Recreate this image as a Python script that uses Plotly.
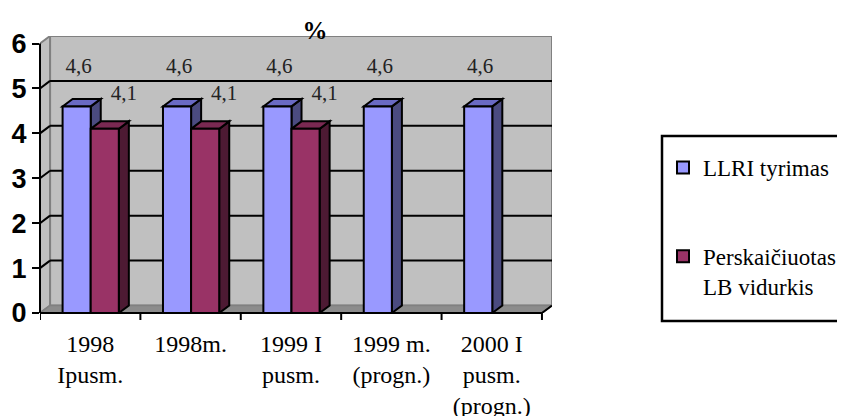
import plotly.graph_objects as go

# ---- data ----
categories = ["1998<br>Ipusm.", "1998m.", "1999 I<br>pusm.", "1999 m.<br>(progn.)", "2000 I<br>pusm.<br>(progn.)"]
series_names = ["LLRI tyrimas", "Perskaičiuotas<br>LB vidurkis"]
llri_values = [4.6, 4.6, 4.6, 4.6, 4.6]
lb_values = [4.1, 4.1, 4.1, None, None]
y_ticks = [0, 1, 2, 3, 4, 5, 6]
title_text = "%"

# ---- style ----
OFF = 8                        # page body margin of the browser
W, H = 845 - OFF, 416 - OFF
ML, MR, MT, MB = 40 - OFF, 293, 36 - OFF, 103
n = len(categories)
DX, DY = 0.10, 0.167          # 3D depth offset in axis units
BAR_W = 0.28
OFFS = [0.365, 0.645]
FRONT = ["#9999FF", "#993366"]
TOP = ["#6A6AC4", "#7A2952"]
SIDE = ["#4B4B80", "#4D1A33"]
LBL_DX = [0.02, 0.19]
LBL_DY = [0.87, 0.77]
SERIF = "Liberation Serif, Times New Roman, serif"
SANS = "Liberation Sans, Arial, sans-serif"

xmax = n + DX
ymax = y_ticks[-1] + DY
plot_h = H - MT - MB
pw = W - ML - MR


def px_x(p):  # reference pixel -> paper x
    return (p - OFF - ML) / pw


def px_y(p):  # reference pixel -> paper y
    return (H - MB - (p - OFF)) / plot_h


fig = go.Figure()
shapes = []

# walls and floor
shapes.append(dict(type="path", xref="x", yref="y", layer="below",
                   path=f"M{DX},{DY} L{n+DX},{DY} L{n+DX},{y_ticks[-1]+DY} L{DX},{y_ticks[-1]+DY} Z",
                   fillcolor="#C0C0C0", line=dict(color="#808080", width=2)))
shapes.append(dict(type="path", xref="x", yref="y", layer="below",
                   path=f"M0,0 L{DX},{DY} L{DX},{y_ticks[-1]+DY} L0,{y_ticks[-1]} Z",
                   fillcolor="#C0C0C0", line=dict(color="#808080", width=2)))
shapes.append(dict(type="path", xref="x", yref="y", layer="below",
                   path=f"M0,0 L{n},0 L{n+DX},{DY} L{DX},{DY} Z",
                   fillcolor="#8C8C8C", line=dict(color="#808080", width=1.5)))
# gridlines on back and side walls
for t in y_ticks[1:-1]:
    shapes.append(dict(type="line", xref="x", yref="y", layer="below",
                       x0=DX, x1=n + DX, y0=t + DY, y1=t + DY, line=dict(color="black", width=2)))
    shapes.append(dict(type="line", xref="x", yref="y", layer="below",
                       x0=0, x1=DX, y0=t, y1=t + DY, line=dict(color="black", width=2)))

# 3D faces of bars (computed from the data)
for s, vals in enumerate([llri_values, lb_values]):
    for i, v in enumerate(vals):
        if v is None:
            continue
        x0 = i + OFFS[s] - BAR_W / 2
        x1 = x0 + BAR_W
        shapes.append(dict(type="path", xref="x", yref="y", layer="below",
                           path=f"M{x1},0 L{x1},{v} L{x1+DX},{v+DY} L{x1+DX},{DY} Z",
                           fillcolor=SIDE[s], line=dict(color="black", width=2)))
        shapes.append(dict(type="path", xref="x", yref="y", layer="below",
                           path=f"M{x0},{v} L{x1},{v} L{x1+DX},{v+DY} L{x0+DX},{v+DY} Z",
                           fillcolor=TOP[s], line=dict(color="black", width=2)))

# front axes lines and category tick marks
shapes.append(dict(type="line", xref="x", yref="paper", x0=0, x1=n, y0=0, y1=0,
                   line=dict(color="black", width=2)))
shapes.append(dict(type="line", xref="x", yref="y", x0=n, x1=n + DX, y0=0, y1=DY,
                   line=dict(color="black", width=2)))
shapes.append(dict(type="line", xref="paper", yref="y", x0=0, x1=0, y0=0, y1=y_ticks[-1],
                   line=dict(color="black", width=2)))
for i in range(n + 1):
    shapes.append(dict(type="line", xref="x", yref="paper", x0=i, x1=i, y0=0, y1=-7 / plot_h,
                       line=dict(color="black", width=2)))

# legend frame
shapes.append(dict(type="rect", xref="paper", yref="paper", layer="below",
                   x0=px_x(662), x1=px_x(860),
                   y0=px_y(321), y1=px_y(136),
                   line=dict(color="black", width=2.5), fillcolor="white"))

# front faces of bars
for s, vals in enumerate([llri_values, lb_values]):
    xs = [i + OFFS[s] for i in range(n)]
    fig.add_trace(go.Bar(x=xs, y=vals, width=BAR_W, name=series_names[s],
                         legendgroup=f"g{s}",
                         marker=dict(color=FRONT[s], line=dict(color="black", width=2))))

# data labels
for s, vals in enumerate([llri_values, lb_values]):
    xs, ys, tx = [], [], []
    for i, v in enumerate(vals):
        if v is None:
            continue
        xs.append(i + OFFS[s] + LBL_DX[s])
        ys.append(v + LBL_DY[s])
        tx.append(f"{v:.1f}".replace(".", ","))
    fig.add_trace(go.Scatter(x=xs, y=ys, mode="text", text=tx, showlegend=False,
                             cliponaxis=False, hoverinfo="skip",
                             textfont=dict(family=SERIF, size=21, color="#222")))

fig.update_layout(
    width=W, height=H,
    margin=dict(l=ML, r=MR, t=MT, b=MB, autoexpand=False),
    paper_bgcolor="white", plot_bgcolor="white",
    barmode="overlay",
    shapes=shapes,
    font=dict(family=SERIF, color="black"),
    title=dict(text=f"<b>{title_text}</b>", x=(315 - OFF) / W, xref="container", xanchor="center",
               y=1 - (30 - OFF) / H, yref="container", yanchor="middle",
               font=dict(family=SERIF, size=25, color="black")),
    xaxis=dict(range=[0, xmax], showgrid=False, zeroline=False, showline=False,
               automargin=False,
               tickmode="array", tickvals=[i + 0.5 for i in range(n)], ticktext=categories,
               ticks="", ticklabelstandoff=14,
               tickfont=dict(family=SERIF, size=24, color="black")),
    yaxis=dict(range=[0, ymax], showgrid=False, zeroline=False, showline=False,
               automargin=False,
               tickmode="array", tickvals=y_ticks, ticks="outside", ticklen=7, tickwidth=2,
               tickcolor="black",
               tickfont=dict(family=SANS, size=27, color="black", weight="bold")),
    legend=dict(x=px_x(663), xanchor="left", y=px_y(146), yanchor="top",
                bgcolor="rgba(0,0,0,0)", borderwidth=0, tracegroupgap=56, valign="top",
                font=dict(family=SERIF, size=23, color="black")),
    showlegend=True,
)

fig.write_html("out.html")
